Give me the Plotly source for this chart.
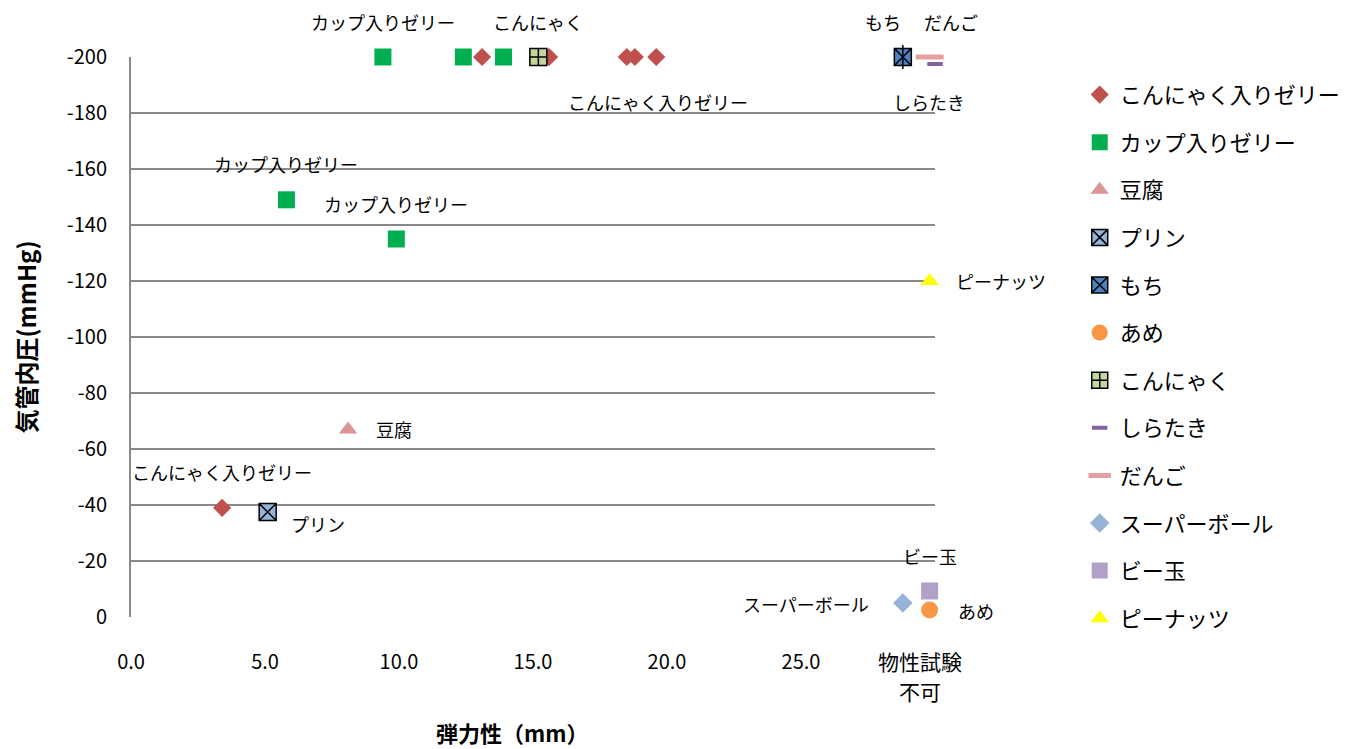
import plotly.graph_objects as go

FONT = "Noto Sans CJK JP"

# ---- data ----
series_names = ["こんにゃく入りゼリー", "カップ入りゼリー", "豆腐", "プリン", "もち", "あめ",
                "こんにゃく", "しらたき", "だんご", "スーパーボール", "ビー玉", "ピーナッツ"]

konjac_jelly_x = [3.4, 13.1, 15.6, 18.5, 18.8, 19.6]
konjac_jelly_y = [-39, -200, -200, -200, -200, -200]
cup_jelly_x = [5.8, 9.9, 9.4, 12.4, 13.9]
cup_jelly_y = [-149, -135, -200, -200, -200]
tofu_x = [8.1]
tofu_y = [-67]
purin_x = [5.1]
purin_y = [-37.5]
mochi_x = [28.8]
mochi_y = [-200]
ame_x = [29.8]
ame_y = [-2.5]
konjac_x = [15.2]
konjac_y = [-200]
shirataki_x = [30.0]
shirataki_y = [-197.5]
dango_x = [29.8]
dango_y = [-200]
superball_x = [28.8]
superball_y = [-5]
bidama_x = [29.8]
bidama_y = [-9.3]
peanut_x = [29.8]
peanut_y = [-120]

x_tick_vals = [0, 5, 10, 15, 20, 25]
x_tick_text = ["0.0", "5.0", "10.0", "15.0", "20.0", "25.0"]
y_tick_vals = [0, -20, -40, -60, -80, -100, -120, -140, -160, -180, -200]
y_tick_text = ["0", "-20", "-40", "-60", "-80", "-100", "-120", "-140", "-160", "-180", "-200"]
untestable_lines = ["物性試験", "不可"]
x_title = "<b>弾力性（mm）</b>"
y_title = "<b>気管内圧(mmHg)</b>"

# ---- styles ----
styles = {
    "こんにゃく入りゼリー": dict(symbol="diamond", size=14, color="#C0504D"),
    "カップ入りゼリー": dict(symbol="square", size=17, color="#00B050"),
    "豆腐": dict(symbol="triangle-up", size=16, color="#D99694"),
    "プリン": dict(symbol="square-x", size=17, color="#95B3D7", line=dict(color="black", width=1.5)),
    "もち": dict(symbol="square-x", size=17, color="#4F81BD", line=dict(color="black", width=1.5)),
    "あめ": dict(symbol="circle", size=17, color="#F79646"),
    "こんにゃく": dict(symbol="square-cross", size=17, color="#C3D69B", line=dict(color="black", width=1.5)),
    "しらたき": dict(symbol="line-ew", size=11, color="#8064A2", line=dict(color="#8064A2", width=4)),
    "だんご": dict(symbol="line-ew", size=20, color="#E6A0A0", line=dict(color="#E6A0A0", width=5)),
    "スーパーボール": dict(symbol="diamond", size=15, color="#95B3D7"),
    "ビー玉": dict(symbol="square", size=17, color="#B2A1C7"),
    "ピーナッツ": dict(symbol="triangle-up", size=16, color="#FFFF00"),
}

series_xy = {
    "こんにゃく入りゼリー": (konjac_jelly_x, konjac_jelly_y),
    "カップ入りゼリー": (cup_jelly_x, cup_jelly_y),
    "豆腐": (tofu_x, tofu_y),
    "プリン": (purin_x, purin_y),
    "もち": (mochi_x, mochi_y),
    "あめ": (ame_x, ame_y),
    "こんにゃく": (konjac_x, konjac_y),
    "しらたき": (shirataki_x, shirataki_y),
    "だんご": (dango_x, dango_y),
    "スーパーボール": (superball_x, superball_y),
    "ビー玉": (bidama_x, bidama_y),
    "ピーナッツ": (peanut_x, peanut_y),
}

# data labels: (series, point index, text, xshift px, yshift px)
label_specs = [
    ("カップ入りゼリー", 2, "カップ入りゼリー", 0, 35),
    ("こんにゃく", 0, "こんにゃく", 0, 35),
    ("こんにゃく入りゼリー", 5, "こんにゃく入りゼリー", 2, -45),
    ("もち", 0, "もち", -20, 35),
    ("だんご", 0, "だんご", 21, 35),
    ("しらたき", 0, "しらたき", -6, -38),
    ("カップ入りゼリー", 0, "カップ入りゼリー", 0, 36),
    ("カップ入りゼリー", 1, "カップ入りゼリー", 0, 35),
    ("ピーナッツ", 0, "ピーナッツ", 71, 0),
    ("豆腐", 0, "豆腐", 46, 0),
    ("こんにゃく入りゼリー", 0, "こんにゃく入りゼリー", 0, 36),
    ("プリン", 0, "プリン", 50, -12),
    ("ビー玉", 0, "ビー玉", 0, 35),
    ("スーパーボール", 0, "スーパーボール", -97, -1),
    ("あめ", 0, "あめ", 46, -1),
]

fig = go.Figure()
for i, name in enumerate(series_names):
    xs, ys = series_xy[name]
    st = dict(styles[name])
    marker = dict(symbol=st["symbol"], size=st["size"], color=st["color"],
                  line=st.get("line", dict(width=0)))
    fig.add_trace(go.Scatter(x=xs, y=ys, mode="markers", name=name, marker=marker,
                             legendgroup=f"g{i}", cliponaxis=False))
    if name == "もち":
        fig.add_trace(go.Scatter(x=xs, y=ys, mode="markers", showlegend=False,
                                 legendgroup=f"g{i}", hoverinfo="skip", cliponaxis=False,
                                 marker=dict(symbol="line-ns", size=17,
                                             line=dict(color="black", width=1.5))))

annotations = []
for name, idx, text, dx, dy in label_specs:
    xs, ys = series_xy[name]
    annotations.append(dict(x=xs[idx], y=ys[idx], xref="x", yref="y", text=text,
                            showarrow=False, xshift=dx, yshift=dy,
                            font=dict(family=FONT, size=18, color="black")))

for k, line in enumerate(untestable_lines):
    annotations.append(dict(x=30, y=0, xref="x", yref="y", text=line,
                            showarrow=False, xshift=-15, yshift=-44 - 30 * k,
                            font=dict(family=FONT, size=21, color="black")))

# x-axis title (slightly left of plot centre, as in the reference)
annotations.append(dict(x=0.474, y=-0.205, xref="paper", yref="paper", text=x_title,
                        showarrow=False, yanchor="middle",
                        font=dict(family=FONT, size=22, color="black")))

fig.update_layout(
    width=1352, height=741,
    paper_bgcolor="white", plot_bgcolor="white",
    margin=dict(l=123, r=425, t=49, b=132),
    font=dict(family=FONT, color="black"),
    annotations=annotations,
    showlegend=True,
    legend=dict(x=1.18, y=0.97, xanchor="left", yanchor="top",
                font=dict(family=FONT, size=22, color="black"),
                tracegroupgap=16, traceorder="grouped", itemwidth=30,
                maxheight=720),
    xaxis=dict(range=[0, 30], tickvals=x_tick_vals, ticktext=x_tick_text,
               showgrid=False, zeroline=False, showline=False, automargin=False,
               tickfont=dict(family=FONT, size=20), ticklabelstandoff=31),
    yaxis=dict(range=[0, -200], tickvals=y_tick_vals, ticktext=y_tick_text,
               showgrid=True, gridcolor="#898989", gridwidth=1.5, automargin=False,
               zeroline=False, showline=True, linecolor="#898989", linewidth=2,
               tickfont=dict(family=FONT, size=20), ticklabelstandoff=18,
               title=dict(text=y_title, font=dict(family=FONT, size=24), standoff=57)),
)

fig.write_html("out.html")
